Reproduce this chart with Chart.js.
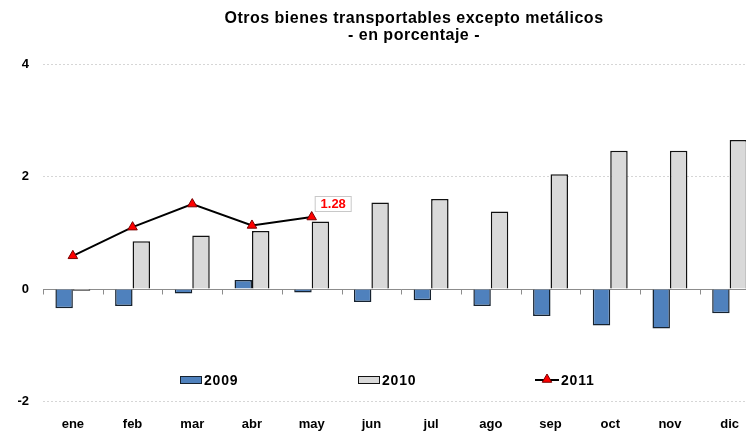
<!DOCTYPE html>
<html>
<head>
<meta charset="utf-8">
<script src="https://cdn.jsdelivr.net/npm/chart.js@4.4.1/dist/chart.umd.min.js"></script>
<style>
html, body { margin: 0; padding: 0; overflow: hidden; background: #ffffff; }
#wrap { position: relative; width: 766px; height: 431px; }
</style>
</head>
<body>
<div id="wrap"><canvas id="c"></canvas></div>
<script>
const categories = ['ene','feb','mar','abr','may','jun','jul','ago','sep','oct','nov','dic'];
const values2009 = [-0.34,-0.30,-0.08,0.16,-0.06,-0.23,-0.20,-0.30,-0.48,-0.65,-0.70,-0.43];
const values2010 = [-0.03,0.85,0.95,1.03,1.20,1.54,1.60,1.38,2.04,2.46,2.46,2.65];
const values2011 = [0.59,1.10,1.51,1.13,1.28,null,null,null,null,null,null,null];
const yTicks = [-2, 0, 2, 4];
const titleLines = ['Otros bienes transportables excepto metálicos', '- en porcentaje -'];
const labelIndex = 4;
const labelText = '1.28';

const FONT = '"Liberation Sans", Arial, sans-serif';

const decorPlugin = {
  id: 'decor',
  beforeDatasetsDraw(chart) {
    const ctx = chart.ctx;
    const y = chart.scales.y;
    const y0 = Math.round(y.getPixelForValue(0)) + 0.5;
    ctx.save();
    ctx.strokeStyle = '#8c8c8c';
    ctx.lineWidth = 1;
    ctx.beginPath();
    ctx.moveTo(chart.chartArea.left, y0);
    ctx.lineTo(chart.chartArea.right, y0);
    const n = categories.length;
    for (let i = 0; i <= n; i++) {
      const px = Math.round(chart.chartArea.left + (chart.chartArea.right - chart.chartArea.left) * i / n) + 0.5;
      ctx.moveTo(px, y0);
      ctx.lineTo(px, y0 + 5);
    }
    ctx.stroke();
    ctx.restore();
  },
  afterDraw(chart) {
    const ctx = chart.ctx;
    ctx.save();
    // Title
    ctx.fillStyle = '#000';
    ctx.textAlign = 'center';
    ctx.textBaseline = 'alphabetic';
    ctx.font = 'bold 16px ' + FONT;
    ctx.letterSpacing = '0.5px';
    ctx.fillText(titleLines[0], 414, 23);
    ctx.fillText(titleLines[1], 414, 40);

    // Legend
    const ds = chart.data.datasets;
    ctx.letterSpacing = '0.8px';
    ctx.font = 'bold 14px ' + FONT;
    ctx.textAlign = 'left';
    ctx.textBaseline = 'middle';
    const ly = 380;
    const boxes = [[180, 0], [358, 1]];
    boxes.forEach(([bx, di]) => {
      ctx.fillStyle = ds[di].backgroundColor;
      ctx.fillRect(bx, ly - 3.5, 22, 7);
      ctx.strokeStyle = ds[di].borderColor;
      ctx.lineWidth = 1;
      ctx.strokeRect(bx + 0.5, ly - 3.5, 21, 7);
      ctx.fillStyle = '#000';
      ctx.fillText(ds[di].label, bx + 24, ly + 1);
    });
    // line legend
    ctx.strokeStyle = ds[2].borderColor;
    ctx.lineWidth = 2;
    ctx.beginPath();
    ctx.moveTo(535, ly);
    ctx.lineTo(559, ly);
    ctx.stroke();
    ctx.fillStyle = ds[2].pointBackgroundColor;
    ctx.strokeStyle = ds[2].pointBorderColor;
    ctx.lineWidth = 1;
    ctx.beginPath();
    const r = 5.5, cx = 547, cy = ly - 0.5;
    ctx.moveTo(cx, cy - r);
    ctx.lineTo(cx + r * Math.sin(2 * Math.PI / 3), cy + r / 2);
    ctx.lineTo(cx - r * Math.sin(2 * Math.PI / 3), cy + r / 2);
    ctx.closePath();
    ctx.fill();
    ctx.stroke();
    ctx.fillStyle = '#000';
    ctx.fillText(ds[2].label, 561, ly + 1);

    // Data label
    const pt = chart.getDatasetMeta(2).data[labelIndex];
    if (pt) {
      const bx = pt.x + 3.5, by = pt.y - 20.5;
      ctx.fillStyle = '#ffffff';
      ctx.fillRect(bx, by, 36, 15);
      ctx.strokeStyle = '#c8c8c8';
      ctx.lineWidth = 1;
      ctx.strokeRect(bx, by, 36, 15);
      ctx.letterSpacing = '0px';
      ctx.font = 'bold 13px ' + FONT;
      ctx.fillStyle = '#ff0000';
      ctx.textAlign = 'center';
      ctx.fillText(labelText, bx + 18, by + 8);
    }
    ctx.restore();
  }
};

new Chart(document.getElementById('c'), {
  data: {
    labels: categories,
    datasets: [
      {
        type: 'bar', label: '2009', data: values2009,
        backgroundColor: '#4f81bd', borderColor: '#16222f', borderWidth: 1.5,
        categoryPercentage: 0.585, barPercentage: 1, order: 2
      },
      {
        type: 'bar', label: '2010', data: values2010,
        backgroundColor: '#d9d9d9', borderColor: '#111111', borderWidth: 1.5,
        categoryPercentage: 0.585, barPercentage: 1, order: 2
      },
      {
        type: 'line', label: '2011', data: values2011,
        borderColor: '#000000', borderWidth: 2,
        pointStyle: 'triangle', pointRadius: 5.5, pointHoverRadius: 5.5,
        pointBackgroundColor: '#ff0000', pointBorderColor: '#7a0000', pointBorderWidth: 1,
        spanGaps: false, fill: false, tension: 0, order: 1
      }
    ]
  },
  options: {
    responsive: true,
    maintainAspectRatio: false,
    animation: false,
    events: [],
    layout: { padding: { top: 64, right: 3, bottom: 0, left: 0 } },
    plugins: { legend: { display: false }, title: { display: false }, tooltip: { enabled: false } },
    scales: {
      x: {
        grid: { display: false, drawTicks: false },
        border: { display: false },
        ticks: { color: '#000', font: { family: FONT, size: 13, weight: 'bold' }, padding: 15, maxRotation: 0 },
        afterFit(scale) { scale.height = 29.5; }
      },
      y: {
        min: -2, max: 4,
        afterBuildTicks(scale) { scale.ticks = yTicks.map(v => ({ value: v })); },
        grid: {
          drawTicks: false,
          color: (c) => (c.tick && c.tick.value === 0) ? 'rgba(0,0,0,0)' : '#d6d6d6',
          lineWidth: 1
        },
        border: { display: false, dash: [2, 2] },
        ticks: { color: '#000', font: { family: FONT, size: 13, weight: 'bold' }, padding: 14 },
        afterFit(scale) { scale.width = 43; }
      }
    }
  },
  plugins: [decorPlugin]
});
</script>
</body>
</html>
